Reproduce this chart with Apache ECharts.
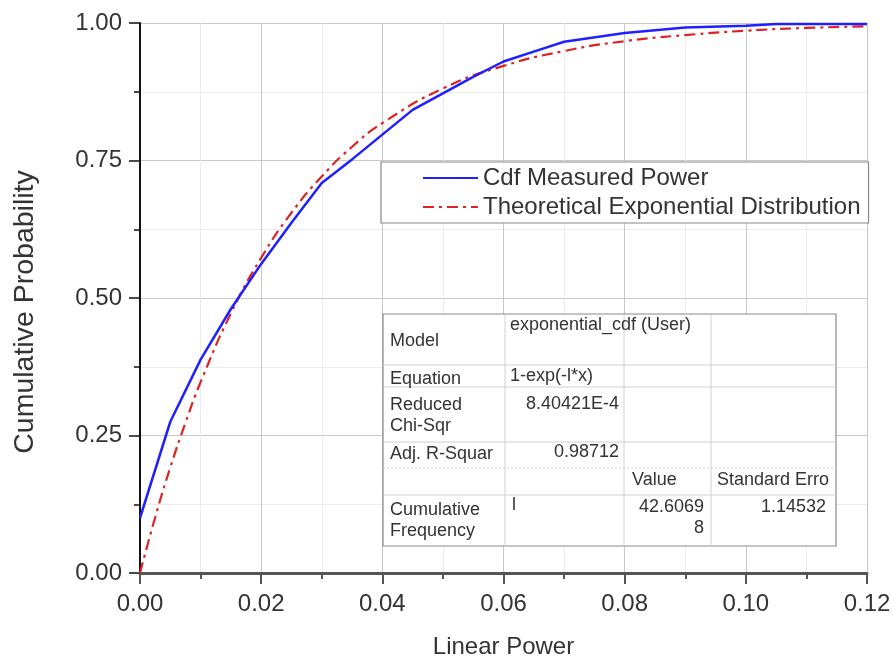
<!DOCTYPE html>
<html>
<head>
<meta charset="utf-8">
<script src="https://cdn.jsdelivr.net/npm/echarts@6/dist/echarts.min.js"></script>
<style>html,body{margin:0;padding:0;background:#fff}#c{width:893px;height:658px}</style>
</head>
<body>
<div id="c"></div>
<script>
// Measured CDF
const xMeasured = [0, 0.005, 0.01, 0.015, 0.02, 0.025, 0.03, 0.035, 0.04, 0.045, 0.05, 0.055, 0.06, 0.065, 0.07, 0.08, 0.09, 0.10, 0.105, 0.12];
const yMeasured = [0.10, 0.275, 0.388, 0.48, 0.562, 0.637, 0.709, 0.752, 0.797, 0.842, 0.872, 0.902, 0.930, 0.948, 0.966, 0.982, 0.992, 0.995, 0.998, 0.998];
// Theoretical exponential distribution
const xTheory = [0, 0.0025, 0.005, 0.0075, 0.01, 0.015, 0.02, 0.025, 0.03, 0.035, 0.04, 0.05, 0.06, 0.07, 0.08, 0.09, 0.10, 0.11, 0.12];
const yTheory = [0, 0.101, 0.192, 0.273, 0.347, 0.472, 0.573, 0.655, 0.721, 0.775, 0.818, 0.881, 0.922, 0.949, 0.967, 0.978, 0.986, 0.991, 0.994];
const seriesNames = ['Cdf Measured Power', 'Theoretical Exponential Distribution'];
const xTitle = 'Linear Power';
const yTitle = 'Cumulative Probability';
// Fit report table
const tableCells = [
  ['Model', 390, 341, 'left'], ['exponential_cdf (User)', 510, 325, 'left'],
  ['Equation', 390, 379, 'left'], ['1-exp(-l*x)', 510, 376, 'left'],
  ['Reduced', 390, 405, 'left'], ['Chi-Sqr', 390, 426, 'left'], ['8.40421E-4', 619, 404, 'right'],
  ['Adj. R-Squar', 390, 454, 'left'], ['0.98712', 619, 452, 'right'],
  ['Value', 632, 480, 'left'], ['Standard Erro', 717, 480, 'left'],
  ['Cumulative', 390, 510, 'left'], ['Frequency', 390, 531, 'left'], ['l', 512, 505, 'left'],
  ['42.6069', 704, 507, 'right'], ['8', 704, 528, 'right'], ['1.14532', 826, 507, 'right']
];

const font = '"Liberation Sans", Arial, sans-serif';
const measured = xMeasured.map((x, i) => [x, yMeasured[i]]);
const theory = xTheory.map((x, i) => [x, yTheory[i]]);

const T = {x0: 383, x1: 836, y0: 314, y1: 546};
const hLines = [365, 387, 442, 468, 495];
const vLines = [505, 624, 711];
const graphics = [];
graphics.push({type: 'rect', shape: {x: T.x0, y: T.y0, width: T.x1 - T.x0, height: T.y1 - T.y0},
  style: {fill: '#fff', stroke: '#8a8a8a', lineWidth: 1.2}, z: 10});
hLines.forEach(y => graphics.push({type: 'line', shape: {x1: T.x0, y1: y, x2: T.x1, y2: y},
  style: {stroke: '#d0d0d0', lineWidth: 1, lineDash: y === 468 ? [2, 2] : null}, z: 11}));
vLines.forEach(x => graphics.push({type: 'line', shape: {x1: x, y1: T.y0, x2: x, y2: T.y1},
  style: {stroke: '#d0d0d0', lineWidth: 1}, z: 11}));
tableCells.forEach(c => graphics.push({type: 'text', x: c[1], y: c[2], z: 12,
  style: {text: c[0], fill: '#333', font: '18px ' + font, textAlign: c[3], textVerticalAlign: 'middle'}}));
graphics.push({type: 'text', x: 25, y: 312, rotation: Math.PI / 2, z: 12,
  style: {text: yTitle, fill: '#333', font: '28.5px ' + font, textAlign: 'center', textVerticalAlign: 'middle'}});

const chart = echarts.init(document.getElementById('c'));
chart.setOption({
  animation: false,
  backgroundColor: '#fff',
  textStyle: {fontFamily: font},
  grid: {left: 140, right: 26, top: 23, bottom: 85, containLabel: false, outerBoundsMode: 'none'},
  legend: {
    orient: 'vertical', left: 381, top: 162, itemWidth: 55, itemHeight: 14, itemGap: 5,
    padding: [4, 8, 4, 41], borderColor: '#888', borderWidth: 1.2, backgroundColor: '#fff',
    textStyle: {fontSize: 24, color: '#333', fontFamily: font}, z: 20,
    itemStyle: {color: 'transparent', borderWidth: 0, opacity: 0},
    data: seriesNames
  },
  xAxis: {
    type: 'value', min: 0, max: 0.12, interval: 0.02,
    name: xTitle, nameLocation: 'middle', nameGap: 62,
    nameTextStyle: {fontSize: 24, color: '#333', fontFamily: font},
    axisLine: {onZero: false, lineStyle: {color: '#555', width: 3}},
    axisTick: {show: true, inside: false, length: 11, lineStyle: {color: '#555', width: 2}},
    minorTick: {show: true, splitNumber: 2, length: 6, lineStyle: {color: '#555', width: 2}},
    axisLabel: {fontSize: 24, color: '#333', margin: 19, formatter: v => v.toFixed(2)},
    splitLine: {show: true, lineStyle: {color: '#c8c8c8', width: 1}},
    minorSplitLine: {show: true, lineStyle: {color: '#ececec', width: 1}}
  },
  yAxis: {
    type: 'value', min: 0, max: 1, interval: 0.25,
    axisLine: {show: true, onZero: false, lineStyle: {color: '#111', width: 2}},
    axisTick: {show: true, inside: false, length: 11, lineStyle: {color: '#111', width: 1.5}},
    minorTick: {show: true, splitNumber: 2, length: 6, lineStyle: {color: '#111', width: 1.5}},
    axisLabel: {fontSize: 24, color: '#333', margin: 18, formatter: v => v.toFixed(2)},
    splitLine: {show: true, lineStyle: {color: '#c8c8c8', width: 1}},
    minorSplitLine: {show: true, lineStyle: {color: '#ececec', width: 1}}
  },
  series: [
    {name: seriesNames[0], type: 'line', data: measured, symbol: 'none', smooth: false,
      lineStyle: {color: '#1f1fff', width: 2.5}, itemStyle: {color: '#1f1fff'}, z: 3},
    {name: seriesNames[1], type: 'line', data: theory, symbol: 'none', smooth: true,
      lineStyle: {color: '#dd2222', width: 2.2, type: [11, 5, 3, 5]}, itemStyle: {color: '#dd2222'}, z: 2}
  ],
  graphic: graphics
});
</script>
</body>
</html>
